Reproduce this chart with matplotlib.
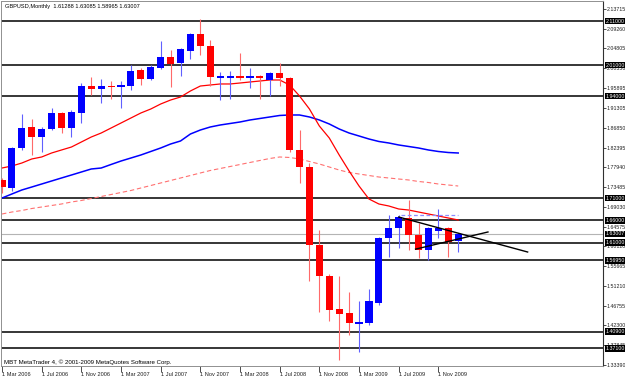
import matplotlib
matplotlib.use('Agg')
import matplotlib.pyplot as plt
import numpy as np
from matplotlib.transforms import blended_transform_factory

FONT = ['Liberation Sans Narrow', 'Liberation Sans', 'DejaVu Sans']

# ---- data (monthly GBPUSD, Mar 2006 .. Jan 2010) ----
opens = [1.7512, 1.7331, 1.8234, 1.8708, 1.8482, 1.8663, 1.9024, 1.8685, 1.9024, 1.9633,
         1.9566, 1.9633, 1.9611, 1.9633, 1.9995, 1.9791, 2.0040, 2.0288, 2.0153, 2.0424,
         2.0807, 2.0536, 1.9814, 1.9814, 1.9859, 1.9814, 1.9859, 1.9769, 1.9927, 1.9814,
         1.8189, 1.7805, 1.6044, 1.5345, 1.4600, 1.4509, 1.4261, 1.4284, 1.4735, 1.6202,
         1.6428, 1.6654, 1.6270, 1.5931, 1.6360, 1.6428, 1.61288]
highs = [1.7560, 1.8256, 1.9001, 1.8888, 1.8708, 1.9137, 1.9047, 1.9092, 1.9701, 1.9837,
         1.9791, 1.9746, 1.9746, 2.0107, 2.0040, 2.0107, 2.0649, 2.0446, 2.0480, 2.0830,
         2.1147, 2.0672, 1.9949, 1.9972, 2.0378, 2.0040, 1.9880, 1.9949, 2.0153, 1.9837,
         1.8640, 1.7895, 1.6383, 1.5400, 1.5345, 1.4983, 1.4780, 1.5051, 1.6225, 1.6721,
         1.6721, 1.7060, 1.6541, 1.6451, 1.6857, 1.6451, 1.63085]
lows = [1.7218, 1.7260, 1.8189, 1.8076, 1.8144, 1.8640, 1.8572, 1.8482, 1.8798, 1.9430,
        1.9250, 1.9340, 1.9137, 1.9543, 1.9656, 1.9769, 2.0010, 1.9611, 1.9859, 2.0243,
        2.0333, 1.9633, 1.9317, 1.9340, 1.9769, 1.9588, 1.9340, 1.9408, 1.9633, 1.8144,
        1.7444, 1.5232, 1.4532, 1.4329, 1.3448, 1.4013, 1.3629, 1.4238, 1.4700, 1.5773,
        1.5977, 1.5931, 1.5751, 1.5706, 1.6202, 1.5773, 1.58965]
closes = [1.7353, 1.8234, 1.8685, 1.8482, 1.8663, 1.9024, 1.8685, 1.9047, 1.9633, 1.9566,
          1.9633, 1.9611, 1.9656, 1.9972, 1.9791, 2.0062, 2.0288, 2.0130, 2.0469, 2.0807,
          2.0536, 1.9837, 1.9859, 1.9859, 1.9814, 1.9859, 1.9814, 1.9927, 1.9814, 1.8189,
          1.7805, 1.6044, 1.5345, 1.4577, 1.4487, 1.4284, 1.4306, 1.4780, 1.6202, 1.6428,
          1.6676, 1.6270, 1.5931, 1.6428, 1.6428, 1.6112, 1.63007]

ma_red = [1.7782, 1.7828, 1.7895, 1.7986, 1.8031, 1.8121, 1.8189, 1.8256, 1.8369, 1.8482,
          1.8572, 1.8685, 1.8798, 1.8911, 1.9024, 1.9114, 1.9227, 1.9317, 1.9385, 1.9521,
          1.9633, 1.9656, 1.9679, 1.9679, 1.9701, 1.9724, 1.9746, 1.9769, 1.9769, 1.9656,
          1.9408, 1.9114, 1.8730, 1.8460, 1.8076, 1.7715, 1.7376, 1.7083, 1.6970, 1.6925,
          1.6857, 1.6834, 1.6789, 1.6744, 1.6699, 1.6654, 1.6609]
ma_blue = [1.7105, 1.7196, 1.7286, 1.7353, 1.7421, 1.7489, 1.7557, 1.7624, 1.7692, 1.7760,
           1.7782, 1.7862, 1.7940, 1.8008, 1.8076, 1.8155, 1.8234, 1.8324, 1.8392, 1.8550,
           1.8640, 1.8708, 1.8753, 1.8787, 1.8821, 1.8866, 1.8900, 1.8934, 1.8968, 1.8979,
           1.8979, 1.8934, 1.8866, 1.8776, 1.8663, 1.8572, 1.8505, 1.8437, 1.8381, 1.8347,
           1.8302, 1.8268, 1.8234, 1.8189, 1.8155, 1.8132, 1.8121]
ma_dash = [1.6744, 1.6789, 1.6823, 1.6868, 1.6902, 1.6936, 1.6970, 1.7015, 1.7049, 1.7094,
           1.7139, 1.7184, 1.7229, 1.7275, 1.7331, 1.7387, 1.7444, 1.7500, 1.7557, 1.7613,
           1.7670, 1.7726, 1.7771, 1.7816, 1.7861, 1.7907, 1.7952, 1.7997, 1.8031, 1.8020,
           1.7986, 1.7929, 1.7873, 1.7805, 1.7737, 1.7681, 1.7647, 1.7613, 1.7579, 1.7557,
           1.7534, 1.7512, 1.7478, 1.7455, 1.7421, 1.7399, 1.7376]

levels = [2.11, 2.01, 1.94, 1.71, 1.66, 1.61, 1.5695, 1.409, 1.371]
bid = 1.63007
level_dashed_blue = 1.6721
dashed_blue_span = [40.2, 46.0]

trend_down = ([40.0, 53.0], [1.6676, 1.5886])
trend_up = ([41.7, 49.0], [1.5951, 1.6338])

ytick_vals = [2.13715, 2.09260, 2.04805, 2.00350, 1.95895, 1.91305, 1.86850, 1.82395,
              1.77940, 1.73485, 1.69030, 1.64575, 1.60120, 1.55665, 1.51210, 1.46755,
              1.42300, 1.37845, 1.33390]
xtick_pos = [0, 4, 8, 12, 16, 20, 24, 28, 32, 36, 40, 44]
xtick_labels = ['1 Mar 2006', '1 Jul 2006', '1 Nov 2006', '1 Mar 2007', '1 Jul 2007',
                '1 Nov 2007', '1 Mar 2008', '1 Jul 2008', '1 Nov 2008', '1 Mar 2009',
                '1 Jul 2009', '1 Nov 2009']

title = 'GBPUSD,Monthly  1.61288 1.63085 1.58965 1.63007'
footer = 'MBT MetaTrader 4, \u00a9 2001-2009 MetaQuotes Software Corp.'

# ---- figure ----
W, H = 625, 378
fig = plt.figure(figsize=(W / 100, H / 100), dpi=100)
fig.patch.set_facecolor('white')
ax = fig.add_axes([1.5 / W, 12 / H, 601.5 / W, 365 / H])
ax.set_facecolor('white')
ax.set_xlim(-0.05, 60.6)
ax.set_ylim(1.3313, 2.1552)

n = len(opens)
x = np.arange(n)
o = np.array(opens); c = np.array(closes); hi = np.array(highs); lo = np.array(lows)
up = c >= o
body_col = np.where(up, '#0000ff', '#ff0000')
wick_col = np.where(up, '#6060ff', '#ff6a6a')

# horizontal levels
for lv in levels:
    ax.axhline(lv, color='black', lw=1.1, zorder=1)
ax.axhline(bid, color='#b4b4b4', lw=0.8, zorder=1)

# moving averages
ax.plot(x, ma_dash, color='#ff7070', lw=0.8, dashes=(4, 2.5), zorder=2)
ax.plot(x, ma_blue, color='#0000ff', lw=1.1, zorder=2)
ax.plot(x, ma_red, color='#ff0000', lw=0.9, zorder=2)

# candles
ax.vlines(x, lo, hi, colors=wick_col, lw=0.8, zorder=3)
bottoms = np.minimum(o, c)
heights = np.maximum(np.abs(c - o), 0.003)
ax.bar(x, heights, bottom=bottoms, width=0.72, color=body_col, edgecolor='none', zorder=4)

# dashed light-blue segment
ax.plot(dashed_blue_span, [level_dashed_blue] * 2, color='#8c8cff', lw=0.9,
        dashes=(3, 2), zorder=5)

# trend lines
ax.plot(*trend_down, color='black', lw=1.0, zorder=6)
ax.plot(*trend_up, color='black', lw=1.0, zorder=6)

# axes styling
for s in ['left', 'top', 'bottom']:
    ax.spines[s].set_color('#909090')
    ax.spines[s].set_linewidth(0.7)
ax.spines['right'].set_color('#303030')
ax.spines['right'].set_linewidth(0.8)

YFS = 3.8
ax.yaxis.tick_right()
ax.set_yticks(ytick_vals)
ax.set_yticklabels([f'{v:.5f}' for v in ytick_vals], fontsize=YFS, family=FONT, color='#202020')
ax.tick_params(axis='y', which='both', direction='out', length=2.0, width=0.6,
               pad=0.6, color='#303030', left=False)

ax.set_xticks(xtick_pos)
ax.set_xticklabels(xtick_labels, fontsize=4.1, family=FONT, color='#202020')
ax.tick_params(axis='x', direction='out', length=4, width=0.6, pad=0.3, color='#303030')
for lbl in ax.get_xticklabels():
    lbl.set_horizontalalignment('left')

# right-side price labels
trans = blended_transform_factory(ax.transAxes, ax.transData)
for lv in levels + [bid]:
    ax.text(1.0038, lv, f'{lv:.5f}', transform=trans, fontsize=YFS, family=FONT,
            color='white', ha='left', va='center', clip_on=False, zorder=10,
            bbox=dict(boxstyle='square,pad=0.12', fc='black', ec='none'))

# texts
fig.text(5 / W, 1 - 6.5 / H, title, fontsize=4.1, family=FONT, color='black',
         ha='left', va='center')
fig.text(4 / W, 1 - 362 / H, footer, fontsize=4.4, family=FONT, color='black',
         ha='left', va='center')

fig.savefig('out.png', dpi=100, facecolor='white')
